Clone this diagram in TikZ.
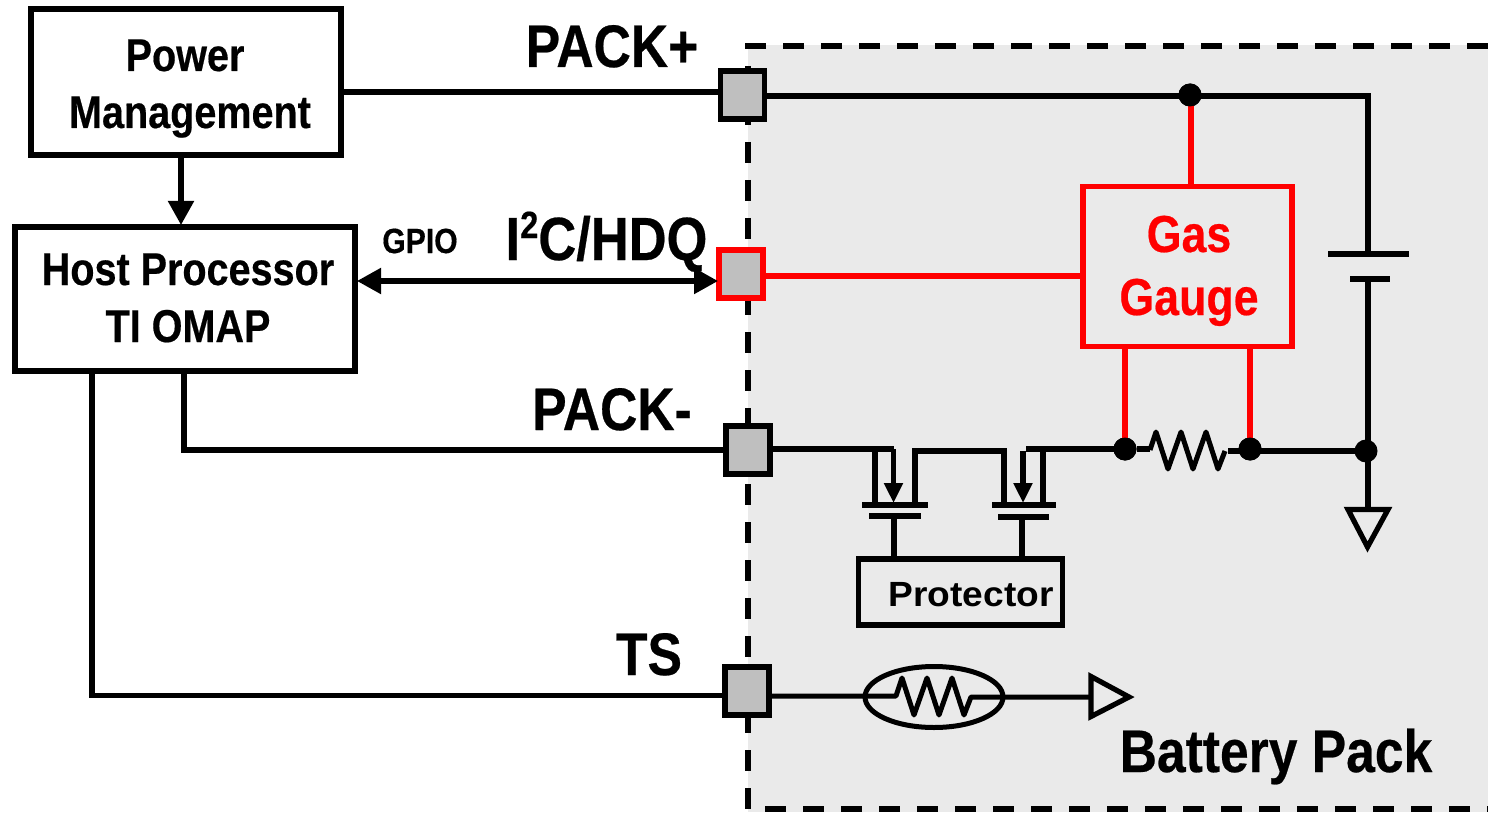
\documentclass[tikz,border=0pt]{standalone}
\usepackage{fontspec}
\setmainfont{Liberation Sans}
\newfontfamily\narrowfont[FakeStretch=0.86,FakeBold=0.4]{Liberation Sans Bold}
\newfontfamily\plainbold[FakeStretch=1.06]{Liberation Sans Bold}
\definecolor{packgray}{HTML}{EAEAEA}
\definecolor{padgray}{HTML}{BFBFBF}
\definecolor{gaugered}{HTML}{FF0000}
\usetikzlibrary{arrows.meta,shapes.geometric}
\tikzset{
  wire/.style={draw=black,line width=5.2pt,line join=miter},
  redwire/.style={draw=gaugered,line width=5.2pt},
  box/.style={draw=black,line width=5.2pt,fill=white,inner sep=0pt,outer sep=0pt,rectangle},
  pad/.style={draw=black,line width=5.5pt,fill=padgray,inner sep=0pt,outer sep=0pt,rectangle,minimum width=44pt,minimum height=48pt},
  dot/.style={circle,fill=black,inner sep=0pt,outer sep=0pt,minimum size=23pt},
  arrowwire/.style={wire,-{Triangle[length=24pt,width=25pt]}},
  lab/.style={anchor=base,inner sep=0pt,outer sep=0pt,align=center,text=black},
}
\newcommand{\fs}[1]{\narrowfont\fontsize{#1}{#1}\selectfont}
\begin{document}
\begin{tikzpicture}[x=1pt,y=-1pt]
\useasboundingbox (0,0) rectangle (1488,813);
\fill[white] (0,0) rectangle (1488,813);
\fill[packgray] (748,45) rectangle (1488,812);
\draw[line width=5.5pt,dash pattern=on 21pt off 17pt] (1488,46) -- (748,46) -- (748,809) -- (1488,809);

% boxes
\node[box,minimum width=310pt,minimum height=146pt] (pm) at (186,82) {};
\node[box,minimum width=340pt,minimum height=144pt] (host) at (185,299) {};
\node[box,draw=gaugered,minimum width=209pt,minimum height=160pt,fill=none] (gauge) at (1187.5,266.5) {};
\node[box,fill=none,minimum width=204pt,minimum height=66pt] (prot) at (960.5,592) {};

% pads
\node[pad] (padp) at (742.5,95) {};
\node[pad,draw=gaugered] (padi) at (741,274) {};
\node[pad] (padm) at (748,450) {};
\node[pad] (padt) at (747,691) {};

% junction dots and named points
\node[dot] (d1) at (1190,95) {};
\node[dot] (d2) at (1125,449) {};
\node[dot] (d3) at (1250,449) {};
\node[dot] (d4) at (1366,451) {};
\coordinate (corner) at (1368,96);
\coordinate (bat1) at (1368,253);
\coordinate (bat2) at (1368,279);
\coordinate (gndtop) at (1368,509);

% top rail and battery
\draw[wire] (padp.east |- 0,96) -- (corner) -- (bat1);
\draw[wire] (1328,254) -- (1409,254);
\draw[wire] (1350,279) -- (1390,279);
\draw[wire] (bat2) -- (gndtop);
\draw[wire] (1250,451) -- (d4);
\draw[wire,line join=miter] (1348,509.5) -- (1388,509.5) -- (1367.5,547) -- cycle;

% host connections
\draw[wire] (pm.east |- 0,92) -- (padp.west |- 0,92);
\draw[arrowwire] (181,156) -- (181,225);
\draw[wire,{Triangle[length=24pt,width=25pt]}-{Triangle[length=24pt,width=25pt]}] (357,281) -- (718,281);
\draw[wire] (184,371) -- (184,450) -- (padm.west);
\draw[wire] (92,371) -- (92,695.5) -- (padt.west |- 0,695.5);

% red connections
\draw[redwire] (1191,95) -- (1191,186);
\draw[redwire] (padi.east |- 0,276) -- (gauge.west |- 0,276);
\draw[redwire] (1125,347) -- (d2);
\draw[redwire] (1250,347) -- (d3);
\node[dot] at (d1) {};
\node[dot] at (d2) {};
\node[dot] at (d3) {};

% sense resistor
\draw[wire] (d2) -- (1150,449);
\draw[wire,line width=5pt,line join=round] (1150,450) -- (1156,432) -- (1168,469) -- (1181,432) -- (1193,469) -- (1206,432) -- (1218,469) -- (1225,451);
\draw[wire] (1228,451) -- (1250,451);

% MOSFETs
\draw[wire] (padm.east |- 0,449) -- (894,449);
\draw[wire] (875,449) -- (875,505);
\draw[wire,-{Triangle[length=20pt,width=18pt]}] (893.5,449) -- (893.5,503);
\draw[wire] (915,505) -- (915,451) -- (1004,451) -- (1004,505);
\draw[wire,-{Triangle[length=20pt,width=18pt]}] (1023,451) -- (1023,503);
\draw[wire] (1043,449) -- (1043,505);
\draw[wire] (1026,449) -- (d2);
\draw[wire] (862,505) -- (928,505);
\draw[wire] (869,516) -- (921,516);
\draw[wire] (992,505) -- (1056,505);
\draw[wire] (998,517) -- (1049,517);
\draw[wire] (894,516) -- (894,558);
\draw[wire] (1022,517) -- (1022,558);

% thermistor
\node[draw=black,line width=5pt,ellipse,fill=none,inner sep=0pt,outer sep=0pt,minimum width=138pt,minimum height=61pt] (therm) at (934,697) {};
\coordinate (tri) at (1091,697);
\draw[wire,line width=5pt,line join=round] (padt.east |- 0,696) -- (896,696) -- (902,678) -- (914,715) -- (927,678) -- (939,715) -- (952,678) -- (964,715) -- (971,697) -- (tri);
\draw[wire,line join=miter] (1091,676.5) -- (1129,697) -- (1091,716.5) -- cycle;

% labels
\node[lab] at (185,71) {\fs{46}Power};
\node[lab] at (190,128) {\fs{46}Management};
\node[lab] at (188,285) {\fs{46}Host Processor};
\node[lab] at (188,342) {\fs{46}TI OMAP};
\node[lab] at (420,253) {\fs{35}GPIO};
\node[lab] at (612,67) {\fs{60}PACK+};
\node[lab] at (606.5,260) {\fs{61}I\raisebox{0.36em}{\fs{38}2}C/HDQ};
\node[lab] at (612,430) {\fs{60}PACK-};
\node[lab] at (649,675) {\fs{60}TS};
\node[lab] at (1276,772) {\fs{60}Battery Pack};
\node[lab,text=gaugered] at (1189,252) {\fs{52}Gas};
\node[lab,text=gaugered] at (1189,315) {\fs{52}Gauge};
\node[lab] at (971,606) {\plainbold\fontsize{35}{35}\selectfont Protector};
\end{tikzpicture}
\end{document}
